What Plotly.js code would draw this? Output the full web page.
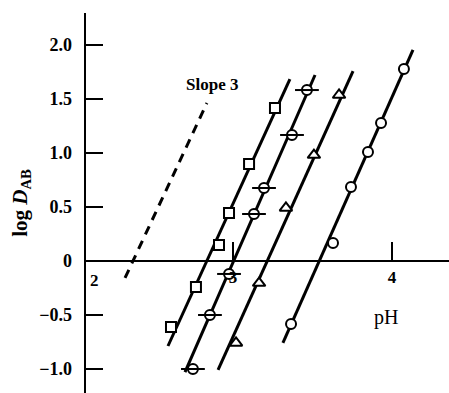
<!DOCTYPE html>
<html>
<head>
<meta charset="utf-8">
<script src="https://cdn.plot.ly/plotly-3.0.1.min.js"></script>
<style>html,body{margin:0;padding:0;background:#fff;}#chart{width:449px;height:393px;}</style>
</head>
<body>
<div id="chart"></div>
<script>
// Square series
const sqX = [3.264, 3.101, 2.975, 2.912, 2.767, 2.610];
const sqY = [1.417, 0.898, 0.444, 0.148, -0.241, -0.611];
const sqLineX = [2.591, 3.358];
const sqLineY = [-0.787, 1.685];
// Barred-circle series
const bcX = [3.465, 3.371, 3.195, 3.132, 2.975, 2.855, 2.748];
const bcY = [1.583, 1.167, 0.676, 0.435, -0.120, -0.500, -1.000];
const bcLineX = [2.698, 3.516];
const bcLineY = [-1.028, 1.722];
// Triangle series
const trX = [3.667, 3.509, 3.333, 3.164, 3.019];
const trY = [1.537, 0.981, 0.491, -0.204, -0.759];
const trLineX = [2.906, 3.755];
const trLineY = [-1.009, 1.759];
// Open circle series
const ocX = [4.075, 3.931, 3.849, 3.742, 3.629, 3.365];
const ocY = [1.778, 1.278, 1.009, 0.685, 0.167, -0.583];
const ocLineX = [3.314, 4.132];
const ocLineY = [-0.759, 1.954];
// Slope 3 reference line
const slopeX = [2.321, 2.836];
const slopeY = [-0.157, 1.463];
// Ticks
const yTicks = [-1.0, -0.5, 0, 0.5, 1.0, 1.5, 2.0];
const yTickText = ['\u22121.0', '\u22120.5', '0', '0.5', '1.0', '1.5', '2.0'];
const xTicks = [3, 4];
const xTickText = ['3', '4'];

const F = 'Liberation Serif, Times New Roman, serif';
const lineStyle = {color: '#000', width: 3};
function lineTrace(x, y, dash) {
  return {x: x, y: y, mode: 'lines', line: Object.assign({}, lineStyle, dash ? {dash: dash} : {}), hoverinfo: 'skip', showlegend: false};
}
function markTrace(x, y, symbol, size, fill) {
  return {x: x, y: y, mode: 'markers', showlegend: false,
    marker: {symbol: symbol, size: size, color: fill, line: {color: '#000', width: 2}}};
}
const traces = [
  lineTrace(slopeX, slopeY, '9px,7px'),
  lineTrace(sqLineX, sqLineY),
  lineTrace(bcLineX, bcLineY),
  lineTrace(trLineX, trLineY),
  lineTrace(ocLineX, ocLineY),
  markTrace(sqX, sqY, 'square', 10, '#fff'),
  markTrace(bcX, bcY, 'circle', 10, '#fff'),
  markTrace(bcX, bcY, 'line-ew', 17, '#000'),
  markTrace(trX, trY, 'triangle-up', 11, '#fff'),
  markTrace(ocX, ocY, 'circle', 10, '#fff')
];

const layout = {
  width: 449, height: 393,
  margin: {l: 86, r: 0, t: 13, b: 0},
  paper_bgcolor: '#fff', plot_bgcolor: '#fff',
  font: {family: F, color: '#000', size: 16},
  showlegend: false,
  xaxis: {
    range: [2.0755, 4.3585], anchor: 'free', position: 0.3474,
    showline: true, linecolor: '#000', linewidth: 2.5,
    showgrid: false, zeroline: false,
    tickmode: 'array', tickvals: xTicks, ticktext: xTickText,
    ticks: 'inside', ticklen: 18, tickwidth: 1.5, tickcolor: '#000',
    tickfont: {family: F, size: 17, weight: 'bold'}
  },
  yaxis: {
    range: [-1.2222, 2.2963],
    showline: true, linecolor: '#000', linewidth: 2.5,
    showgrid: false, zeroline: false,
    tickmode: 'array', tickvals: yTicks, ticktext: yTickText,
    ticks: 'inside', ticklen: 17, tickwidth: 2, tickcolor: '#000',
    ticklabelstandoff: 8,
    tickfont: {family: F, size: 18, weight: 'bold'},
    title: {text: 'log <i>D</i><sub>AB</sub>', font: {family: F, size: 21, weight: 'bold'}, standoff: 6}
  },
  annotations: [
    {x: 2.0755, y: 0, xref: 'x', yref: 'y', text: '2', showarrow: false, xanchor: 'left', yanchor: 'top', xshift: 2, yshift: -8,
     font: {family: F, size: 17, weight: 'bold'}},
    {x: 2.87, y: 1.63, xref: 'x', yref: 'y', text: 'Slope 3', showarrow: false,
     font: {family: F, size: 17, weight: 'bold'}},
    {x: 3.96, y: -0.52, xref: 'x', yref: 'y', text: 'pH', showarrow: false,
     font: {family: F, size: 20}}
  ]
};
Plotly.newPlot('chart', traces, layout, {displayModeBar: false, staticPlot: true});
</script>
</body>
</html>
